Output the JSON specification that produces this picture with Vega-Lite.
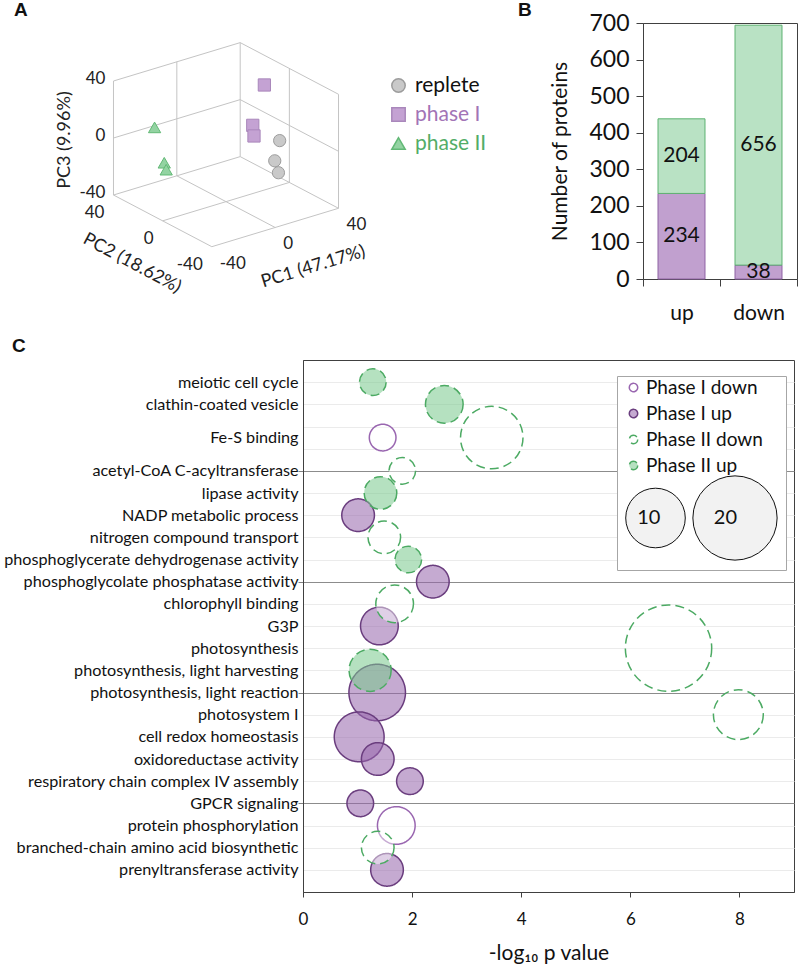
{
  "$schema": "https://vega.github.io/schema/vega-lite/v6.json",
  "padding": {"left": 3, "top": 0, "right": 0, "bottom": 0},
  "background": "white",
  "spacing": 12,
  "config": {
    "font": "Lato",
    "view": {"stroke": "#404040", "strokeWidth": 1},
    "axis": {"domainColor": "#404040", "tickColor": "#404040", "labelColor": "#111", "titleColor": "#111", "titleFontWeight": "normal", "labelFont": "Lato", "titleFont": "Lato"},
    "title": {"font": "Liberation Sans", "fontSize": 19, "fontWeight": "bold", "anchor": "start", "color": "#111", "offset": 4, "frame": "group"},
    "legend": {"labelFont": "Lato", "labelColor": "#111"}
  },
  "resolve": {"scale": {"fill": "independent", "stroke": "independent", "shape": "independent", "size": "independent", "strokeDash": "independent"}, "legend": {"fill": "independent", "stroke": "independent", "shape": "independent", "size": "independent", "strokeDash": "independent"}},
  "vconcat": [
    {
      "hconcat": [
        {
          "title": {"text": "A", "dx": -289, "offset": 3},
          "width": 196,
          "height": 280,
          "view": {"stroke": null},
          "data": {"values": [
            {"kind": "edge", "p1": -40, "p2": 40, "p3": -40, "q1": -40, "q2": 40, "q3": 40},
            {"kind": "edge", "p1": 40, "p2": 40, "p3": -40, "q1": 40, "q2": 40, "q3": 40},
            {"kind": "edge", "p1": -40, "p2": 40, "p3": 40, "q1": 40, "q2": 40, "q3": 40},
            {"kind": "edge", "p1": -40, "p2": 40, "p3": 0, "q1": 40, "q2": 40, "q3": 0},
            {"kind": "edge", "p1": -40, "p2": 40, "p3": -40, "q1": 40, "q2": 40, "q3": -40},
            {"kind": "edge", "p1": 0, "p2": 40, "p3": -40, "q1": 0, "q2": 40, "q3": 40},
            {"kind": "edge", "p1": 40, "p2": -40, "p3": -40, "q1": 40, "q2": -40, "q3": 40},
            {"kind": "edge", "p1": 40, "p2": -40, "p3": 40, "q1": 40, "q2": 40, "q3": 40},
            {"kind": "edge", "p1": 40, "p2": -40, "p3": 0, "q1": 40, "q2": 40, "q3": 0},
            {"kind": "edge", "p1": 40, "p2": -40, "p3": -40, "q1": 40, "q2": 40, "q3": -40},
            {"kind": "edge", "p1": 40, "p2": 0, "p3": -40, "q1": 40, "q2": 0, "q3": 40},
            {"kind": "edge", "p1": -40, "p2": 40, "p3": -40, "q1": -40, "q2": -40, "q3": -40},
            {"kind": "edge", "p1": -40, "p2": -40, "p3": -40, "q1": 40, "q2": -40, "q3": -40},
            {"kind": "edge", "p1": 0, "p2": 40, "p3": -40, "q1": 0, "q2": -40, "q3": -40},
            {"kind": "edge", "p1": -40, "p2": 0, "p3": -40, "q1": 40, "q2": 0, "q3": -40},
            {"kind": "point", "group": "replete", "p1": 30, "p2": -5, "p3": -5},
            {"kind": "point", "group": "replete", "p1": 30, "p2": -1, "p3": -21},
            {"kind": "point", "group": "replete", "p1": 30, "p2": -4, "p3": -28},
            {"kind": "point", "group": "phase I", "p1": 25, "p2": 1, "p3": 33},
            {"kind": "point", "group": "phase I", "p1": 20, "p2": 4, "p3": 5},
            {"kind": "point", "group": "phase I", "p1": 20, "p2": 3, "p3": -2},
            {"kind": "point", "group": "phase II", "p1": -35, "p2": 13, "p3": 18},
            {"kind": "point", "group": "phase II", "p1": -32, "p2": 9, "p3": -6},
            {"kind": "point", "group": "phase II", "p1": -30, "p2": 10, "p3": -12},
            {"kind": "t3", "p1": -40, "p2": 40, "p3": 40, "label": "40"},
            {"kind": "t3", "p1": -40, "p2": 40, "p3": 0, "label": "0"},
            {"kind": "t3", "p1": -40, "p2": 40, "p3": -40, "label": "-40"},
            {"kind": "t2", "p1": -40, "p2": 40, "p3": -40, "label": "40"},
            {"kind": "t2", "p1": -40, "p2": 0, "p3": -40, "label": "0"},
            {"kind": "t2", "p1": -40, "p2": -40, "p3": -40, "label": "-40"},
            {"kind": "t1", "p1": -40, "p2": -40, "p3": -40, "label": "-40"},
            {"kind": "t1", "p1": 0, "p2": -40, "p3": -40, "label": "0"},
            {"kind": "t1", "p1": 40, "p2": -40, "p3": -40, "label": "40"},
            {"kind": "a3", "p1": -40, "p2": 40, "p3": 0, "label": "PC3 (9.96%)"},
            {"kind": "a2", "p1": -40, "p2": 0, "p3": -40, "label": "PC2 (18.62%)"},
            {"kind": "a1", "p1": 0, "p2": -40, "p3": -40, "label": "PC1 (47.17%)"}
          ]},
          "transform": [
            {"calculate": "1.584*datum.p1 - 1.229*datum.p2", "as": "sx"},
            {"calculate": "0.48*datum.p1 + 0.646*datum.p2 + 1.425*datum.p3", "as": "sy"},
            {"calculate": "1.584*datum.q1 - 1.229*datum.q2", "as": "sx2"},
            {"calculate": "0.48*datum.q1 + 0.646*datum.q2 + 1.425*datum.q3", "as": "sy2"}
          ],
          "encoding": {
            "x": {"field": "sx", "type": "quantitative", "scale": {"domain": [77, 273], "nice": false, "zero": false}, "axis": null},
            "y": {"field": "sy", "type": "quantitative", "scale": {"domain": [-158.35, 121.65], "nice": false, "zero": false}, "axis": null}
          },
          "layer": [
            {
              "transform": [{"filter": "datum.kind === 'edge'"}],
              "mark": {"type": "rule", "color": "#c4c4c4", "strokeWidth": 1},
              "encoding": {"x2": {"field": "sx2"}, "y2": {"field": "sy2"}}
            },
            {
              "transform": [{"filter": "datum.kind === 'point'"}],
              "mark": {"type": "point", "filled": true, "size": 150, "strokeWidth": 1, "opacity": 1},
              "encoding": {
                "shape": {"field": "group", "type": "nominal", "scale": {"domain": ["replete", "phase I", "phase II"], "range": ["circle", "square", "triangle-up"]},
                  "legend": {"title": null, "orient": "none", "legendX": 85, "legendY": 52, "labelFontSize": 21, "symbolSize": 180, "rowPadding": 7, "labelOffset": 6,
                    "labelColor": {"expr": "datum.value === 'replete' ? '#111111' : datum.value === 'phase I' ? '#a274b6' : '#52ad68'"}}},
                "fill": {"field": "group", "type": "nominal", "scale": {"domain": ["replete", "phase I", "phase II"], "range": ["#c9c9c9", "#c4a2d3", "#93d3a2"]}},
                "stroke": {"field": "group", "type": "nominal", "scale": {"domain": ["replete", "phase I", "phase II"], "range": ["#9c9c9c", "#a987bb", "#62b976"]}}
              }
            },
            {
              "transform": [{"filter": "datum.kind === 't3'"}],
              "mark": {"type": "text", "align": "right", "baseline": "middle", "dx": -8, "dy": -2, "fontSize": 17, "color": "#222"},
              "encoding": {"text": {"field": "label"}}
            },
            {
              "transform": [{"filter": "datum.kind === 't2'"}],
              "mark": {"type": "text", "align": "right", "baseline": "middle", "dx": -9, "dy": 18, "fontSize": 17, "color": "#222"},
              "encoding": {"text": {"field": "label"}}
            },
            {
              "transform": [{"filter": "datum.kind === 't1'"}],
              "mark": {"type": "text", "align": "left", "baseline": "middle", "dx": 8, "dy": 17, "fontSize": 17, "color": "#222"},
              "encoding": {"text": {"field": "label"}}
            },
            {
              "transform": [{"filter": "datum.kind === 'a3'"}],
              "mark": {"type": "text", "align": "center", "baseline": "middle", "angle": 270, "dx": -2, "dy": -48, "fontSize": 18, "color": "#222"},
              "encoding": {"text": {"field": "label"}}
            },
            {
              "transform": [{"filter": "datum.kind === 'a2'"}],
              "mark": {"type": "text", "align": "center", "baseline": "middle", "angle": 28, "dx": -7, "dy": 52, "fontSize": 18, "color": "#222"},
              "encoding": {"text": {"field": "label"}}
            },
            {
              "transform": [{"filter": "datum.kind === 'a1'"}],
              "mark": {"type": "text", "align": "center", "baseline": "middle", "angle": 343, "dx": 25, "dy": 49, "fontSize": 18, "color": "#222"},
              "encoding": {"text": {"field": "label"}}
            }
          ]
        },
        {
          "title": {"text": "B", "dx": -125, "offset": -8},
          "width": 154,
          "height": 256,
          "data": {"values": [
            {"dir": "up", "phase": "phase I", "count": 234},
            {"dir": "up", "phase": "phase II", "count": 204},
            {"dir": "down", "phase": "phase I", "count": 38},
            {"dir": "down", "phase": "phase II", "count": 656}
          ]},
          "encoding": {
            "x": {"field": "dir", "type": "nominal", "sort": ["up", "down"], "scale": {"paddingInner": 0, "paddingOuter": 0},
              "axis": {"title": null, "labelAngle": 0, "labelFontSize": 21, "tickSize": 7, "tickBand": "extent", "labelPadding": 16}},
            "y": {"field": "count", "type": "quantitative", "stack": "zero", "scale": {"domain": [0, 700], "nice": false},
              "axis": {"title": "Number of proteins", "values": [0, 100, 200, 300, 400, 500, 600, 700], "titleFontSize": 21, "labelFontSize": 23, "tickSize": 7, "labelPadding": 7, "titlePadding": 18, "grid": false}}
          },
          "layer": [
            {
              "mark": {"type": "bar", "width": {"band": 0.61}, "strokeWidth": 1},
              "encoding": {
                "fill": {"field": "phase", "type": "nominal", "scale": {"domain": ["phase I", "phase II"], "range": ["#c1a0cf", "#b9e2c4"]}, "legend": null},
                "stroke": {"field": "phase", "type": "nominal", "scale": {"domain": ["phase I", "phase II"], "range": ["#8e62a3", "#5db271"]}, "legend": null},
                "order": {"field": "phase", "type": "nominal", "sort": "ascending"}
              }
            },
            {
              "mark": {"type": "text", "fontSize": 21, "color": "#111"},
              "encoding": {
                "y": {"field": "count", "type": "quantitative", "stack": "zero", "bandPosition": 0.5},
                "detail": {"field": "phase"},
                "order": {"field": "phase", "type": "nominal", "sort": "ascending"},
                "text": {"field": "count", "type": "quantitative"}
              }
            }
          ]
        }
      ],
      "spacing": 18,
      "resolve": {"scale": {"fill": "independent", "stroke": "independent", "shape": "independent"}, "legend": {"fill": "independent", "stroke": "independent", "shape": "independent"}}
    },
    {
      "hconcat": [
        {
          "title": {"text": "C", "dx": -291},
          "width": 491,
          "height": 532,
          "data": {"values": [
            {"term": "NADP metabolic process", "pos": 7, "series": "Phase I up", "p": 1.01, "n": 3},
            {"term": "phosphoglycolate phosphatase activity", "pos": 10, "series": "Phase I up", "p": 2.38, "n": 3},
            {"term": "G3P", "pos": 12, "series": "Phase I up", "p": 1.40, "n": 4},
            {"term": "photosynthesis, light reaction", "pos": 15, "series": "Phase I up", "p": 1.36, "n": 9},
            {"term": "cell redox homeostasis", "pos": 17, "series": "Phase I up", "p": 1.03, "n": 7},
            {"term": "oxidoreductase activity", "pos": 18, "series": "Phase I up", "p": 1.37, "n": 3},
            {"term": "respiratory chain complex IV assembly", "pos": 19, "series": "Phase I up", "p": 1.96, "n": 2},
            {"term": "GPCR signaling", "pos": 20, "series": "Phase I up", "p": 1.05, "n": 2},
            {"term": "prenyltransferase activity", "pos": 23, "series": "Phase I up", "p": 1.54, "n": 3},
            {"term": "meiotic cell cycle", "pos": 1, "series": "Phase II up", "p": 1.28, "n": 2},
            {"term": "clathin-coated vesicle", "pos": 2, "series": "Phase II up", "p": 2.59, "n": 4},
            {"term": "lipase activity", "pos": 6, "series": "Phase II up", "p": 1.42, "n": 3},
            {"term": "phosphoglycerate dehydrogenase activity", "pos": 9, "series": "Phase II up", "p": 1.93, "n": 2},
            {"term": "photosynthesis, light harvesting", "pos": 14, "series": "Phase II up", "p": 1.23, "n": 5},
            {"term": "Fe-S binding", "pos": 3.5, "series": "Phase I down", "p": 1.46, "n": 2},
            {"term": "protein phosphorylation", "pos": 21, "series": "Phase I down", "p": 1.71, "n": 4},
            {"term": "Fe-S binding", "pos": 3.5, "series": "Phase II down", "p": 3.46, "n": 11},
            {"term": "acetyl-CoA C-acyltransferase", "pos": 5, "series": "Phase II down", "p": 1.82, "n": 2},
            {"term": "nitrogen compound transport", "pos": 8, "series": "Phase II down", "p": 1.49, "n": 3},
            {"term": "chlorophyll binding", "pos": 11, "series": "Phase II down", "p": 1.68, "n": 4},
            {"term": "photosynthesis", "pos": 13, "series": "Phase II down", "p": 6.70, "n": 21},
            {"term": "photosystem I", "pos": 16, "series": "Phase II down", "p": 7.98, "n": 7},
            {"term": "branched-chain amino acid biosynthetic", "pos": 22, "series": "Phase II down", "p": 1.37, "n": 3}
          ]},
          "mark": {"type": "circle", "strokeWidth": 1.5, "opacity": 1},
          "encoding": {
            "x": {"field": "p", "type": "quantitative", "scale": {"domain": [0, 9], "nice": false, "zero": true},
              "axis": {"title": "-log₁₀ p value", "values": [0, 2, 4, 6, 8], "labelFontSize": 17, "titleFontSize": 21, "tickSize": 5, "labelPadding": 14, "titlePadding": 15, "grid": false, "labelFlush": false}},
            "y": {"field": "pos", "type": "quantitative", "scale": {"domain": [0, 24], "reverse": true, "nice": false, "zero": false},
              "axis": {"title": null,
                "values": [1, 2, 3, 3.5, 4, 5, 6, 7, 8, 9, 10, 11, 12, 13, 14, 15, 16, 17, 18, 19, 20, 21, 22, 23],
                "labelExpr": "datum.value === 3.5 ? 'Fe-S binding' : ['', 'meiotic cell cycle', 'clathin-coated vesicle', '', '', 'acetyl-CoA C-acyltransferase', 'lipase activity', 'NADP metabolic process', 'nitrogen compound transport', 'phosphoglycerate dehydrogenase activity', 'phosphoglycolate phosphatase activity', 'chlorophyll binding', 'G3P', 'photosynthesis', 'photosynthesis, light harvesting', 'photosynthesis, light reaction', 'photosystem I', 'cell redox homeostasis', 'oxidoreductase activity', 'respiratory chain complex IV assembly', 'GPCR signaling', 'protein phosphorylation', 'branched-chain amino acid biosynthetic', 'prenyltransferase activity'][datum.value]",
                "labelFontSize": 16.2, "labelPadding": 0, "tickSize": 5, "labelOverlap": false, "labelFlush": false, "labelLimit": 400,
                "tickColor": {"condition": {"test": "datum.value % 5 === 0", "value": "#808080"}, "value": "transparent"},
                "grid": true,
                "gridColor": {"condition": {"test": "datum.value % 5 === 0", "value": "#8c8c8c"}, "value": "#ebebeb"},
                "gridOpacity": {"condition": {"test": "datum.value === 3.5", "value": 0}, "value": 1}}},
            "size": {"field": "n", "type": "quantitative", "scale": {"domain": [0, 20], "range": [0, 7100]},
              "legend": {"title": " ", "titleFontSize": 10, "titlePadding": 80, "values": [10, 20], "orient": "none", "legendX": 314, "legendY": 16, "zindex": 1, "direction": "horizontal", "clipHeight": 88,
                "labelExpr": "datum.value === 10 ? '10\u00a0\u00a0\u00a0\u00a0\u00a0\u200b' : '20\u00a0\u00a0\u00a0\u00a0\u00a0\u00a0\u00a0\u00a0\u200b'",
                "symbolFillColor": "#f2f2f2", "symbolStrokeColor": "#111", "symbolStrokeWidth": 1, "labelFontSize": 20, "labelAlign": "right", "labelOffset": 0, "columnPadding": 6, "padding": 8, "strokeColor": "#a6a6a6", "fillColor": "white"}},
            "fill": {"field": "series", "type": "nominal", "scale": {"domain": ["Phase I down", "Phase I up", "Phase II down", "Phase II up"], "range": ["rgba(255,255,255,0.45)", "rgba(150,100,172,0.55)", "rgba(255,255,255,0.45)", "rgba(120,200,140,0.55)"]},
              "legend": {"title": null, "orient": "none", "legendX": 321, "legendY": 18, "zindex": 2, "labelFontSize": 19, "symbolSize": 70, "symbolStrokeWidth": 1.5, "rowPadding": 6, "labelOffset": 3, "padding": 0, "symbolType": "circle"}},
            "stroke": {"field": "series", "type": "nominal", "scale": {"domain": ["Phase I down", "Phase I up", "Phase II down", "Phase II up"], "range": ["#9966b0", "#6a3d7e", "#4caa63", "#4caa63"]}},
            "strokeDash": {"field": "series", "type": "nominal", "scale": {"domain": ["Phase I down", "Phase I up", "Phase II down", "Phase II up"], "range": [[1, 0], [1, 0], [9, 5], [9, 5]]}}
          }
        }
      ]
    }
  ]
}
